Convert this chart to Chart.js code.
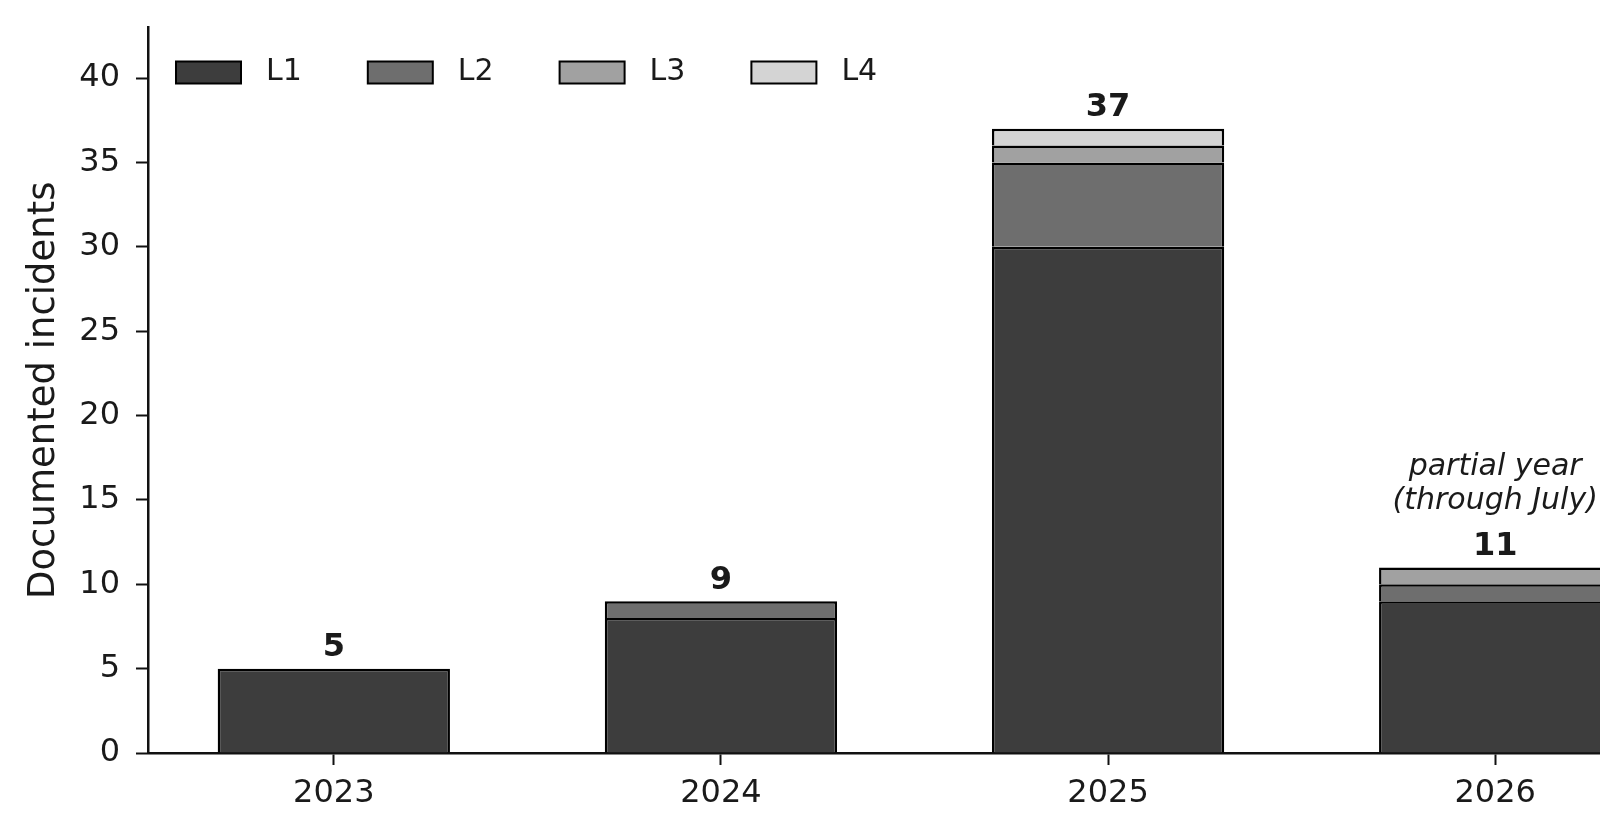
<!DOCTYPE html>
<html>
<head>
<meta charset="utf-8">
<script src="https://cdn.jsdelivr.net/npm/chart.js@4.4.0/dist/chart.umd.min.js"></script>
<style>
  html, body { margin: 0; padding: 0; background: #fff; overflow: hidden; }
  #wrap { width: 1600px; height: 840px; overflow: hidden; }
</style>
</head>
<body>
<div id="wrap"><canvas id="incidentsChart" width="1700" height="840"></canvas></div>
<script>
const years = ['2023', '2024', '2025', '2026'];
const level1 = [5, 8, 30, 9];
const level2 = [0, 1, 5, 1];
const level3 = [0, 0, 1, 1];
const level4 = [0, 0, 1, 0];
const seriesNames = ['L1', 'L2', 'L3', 'L4'];
const yTickValues = [0, 5, 10, 15, 20, 25, 30, 35, 40];
const noteYear = '2026';
const noteLines = ['partial year', '(through July)'];

const fontFamily = '"DejaVu Sans", "Liberation Sans", sans-serif';
const textColor = '#1a1a1a';
const fills = ['#3d3d3d', '#6e6e6e', '#a1a1a1', '#d4d4d4'];

const toPoints = (values) => values.map((v, i) => ({ x: i, y: v }));

const totalsPlugin = {
    id: 'totals',
    afterDatasetsDraw(chart) {
        const { ctx, scales: { x, y } } = chart;
        ctx.save();
        ctx.fillStyle = textColor;
        ctx.textAlign = 'center';
        years.forEach((year, i) => {
            const total = level1[i] + level2[i] + level3[i] + level4[i];
            const px = x.getPixelForValue(i);
            const py = y.getPixelForValue(total);
            ctx.textBaseline = 'alphabetic';
            ctx.font = `bold 32px ${fontFamily}`;
            ctx.fillText(String(total), px, py - 12.5);
            if (year === noteYear) {
                ctx.textBaseline = 'middle';
                ctx.font = `italic 30px ${fontFamily}`;
                ctx.fillText(noteLines[0], px, py - 100);
                ctx.fillText(noteLines[1], px, py - 66);
            }
        });
        ctx.restore();
    }
};

// legend sits inside the plot, top left
const insideLegend = {
    id: 'insideLegend',
    afterDraw(chart) {
        const { ctx, chartArea } = chart;
        const cy = chartArea.top + 45;
        ctx.save();
        ctx.font = `30px ${fontFamily}`;
        ctx.textBaseline = 'middle';
        ctx.textAlign = 'left';
        seriesNames.forEach((name, i) => {
            const bx = chartArea.left + 28 + i * 191.8;
            ctx.fillStyle = fills[i];
            ctx.fillRect(bx, cy - 11, 65, 22);
            ctx.lineWidth = 2;
            ctx.strokeStyle = '#000';
            ctx.strokeRect(bx, cy - 11, 65, 22);
            ctx.fillStyle = textColor;
            ctx.fillText(name, bx + 90, cy);
        });
        ctx.restore();
    }
};

const makeDataset = (label, values, color) => ({
    label,
    data: toPoints(values),
    backgroundColor: color,
    borderColor: '#000',
    borderWidth: 2.5,
    categoryPercentage: 0.6,
    barPercentage: 1.0,
});

const initChart = () => {
    const ctx = document.getElementById('incidentsChart');
    new Chart(ctx, {
        type: 'bar',
        data: {
            datasets: [
                makeDataset(seriesNames[0], level1, fills[0]),
                makeDataset(seriesNames[1], level2, fills[1]),
                makeDataset(seriesNames[2], level3, fills[2]),
                makeDataset(seriesNames[3], level4, fills[3]),
            ]
        },
        options: {
            responsive: false,
            animation: false,
            layout: { padding: { left: 0, top: 27.5, right: 19, bottom: 0 } },
            plugins: {
                legend: { display: false },
                tooltip: { enabled: false },
            },
            scales: {
                x: {
                    type: 'linear',
                    stacked: true,
                    offset: false,
                    min: -0.48,
                    max: 3.48,
                    afterBuildTicks: (axis) => { axis.ticks = years.map((_, i) => ({ value: i })); },
                    afterFit: (axis) => {
                        axis.height = 87;
                        axis.paddingLeft = 0;
                        axis.paddingRight = 0;
                    },
                    grid: { display: true, drawOnChartArea: false, offset: false, drawTicks: true, tickLength: 12, tickWidth: 2, tickColor: '#111' },
                    border: { display: true, color: '#111', width: 2.5 },
                    ticks: {
                        autoSkip: false,
                        maxRotation: 0,
                        padding: 9,
                        color: textColor,
                        font: { family: fontFamily, size: 32 },
                        callback: (value) => years[value],
                    }
                },
                y: {
                    stacked: true,
                    min: 0,
                    max: 43,
                    afterBuildTicks: (axis) => { axis.ticks = yTickValues.map((v) => ({ value: v })); },
                    afterFit: (axis) => {
                        axis.width = 148;
                        axis.paddingTop = 0;
                        axis.paddingBottom = 0;
                    },
                    grid: { display: true, drawOnChartArea: false, drawTicks: true, tickLength: 12, tickWidth: 2, tickColor: '#111' },
                    border: { display: true, color: '#111', width: 2.5 },
                    ticks: {
                        padding: 16,
                        color: textColor,
                        font: { family: fontFamily, size: 32 },
                    },
                    title: {
                        display: true,
                        text: 'Documented incidents',
                        color: textColor,
                        font: { family: fontFamily, size: 37, lineHeight: 1.2 },
                        padding: { top: 22, bottom: 0 },
                    }
                }
            }
        },
        plugins: [totalsPlugin, insideLegend]
    });
};

window.addEventListener('DOMContentLoaded', initChart);
</script>
</body>
</html>
